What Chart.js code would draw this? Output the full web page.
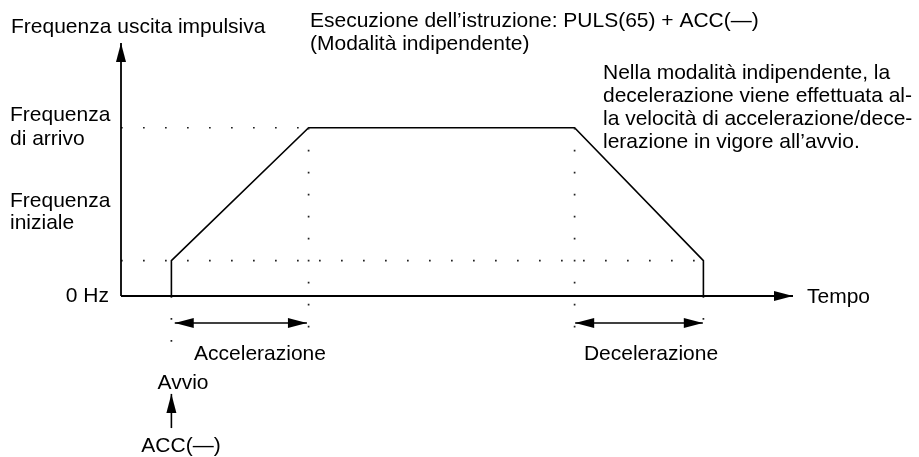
<!DOCTYPE html>
<html>
<head>
<meta charset="utf-8">
<script src="https://cdn.jsdelivr.net/npm/chart.js@4/dist/chart.umd.min.js"></script>
<style>
  html, body { margin: 0; padding: 0; background: #fff; }
</style>
</head>
<body>
<canvas id="profileChart" width="919" height="457"></canvas>
<script>
// Time axis (arbitrary units): avvio, fine accelerazione, inizio decelerazione, fine
const profileTime = [0.9, 0.9, 3.35, 8.1, 10.4, 10.4];
// Frequency (arbitrary units): 0 Hz, frequenza iniziale, frequenza di arrivo
const profileFreq = [0, 14, 66.5, 66.5, 14, 0];

const T_START = 0.9;
const T_ACC_END = 3.35;
const T_DEC_START = 8.1;
const T_END = 10.4;
const F_INIT = 14;
const F_ARRIVAL = 66.5;

const AXIS_T_MAX = 12;
const AXIS_F_MAX = 100;

// annotation marks below the time axis (same units)
const SPAN_ROW = -10.7;
const GUIDE_LOW = -15.4;
const START_GUIDE_LOW = -26;
const ACC_ARROW = [-52.2, -38.7];

const accSpan = [0.96, 3.32];
const decSpan = [8.11, 10.39];

const FONT = '21px "Liberation Sans", Arial, sans-serif';
const INK = "#000";

function pts(xs, ys) {
  return xs.map((x, i) => ({ x, y: ys[i] }));
}

function solid(data, width, arrows) {
  return {
    data,
    borderColor: INK,
    borderWidth: width,
    pointRadius: 0,
    fill: false,
    tension: 0,
    clip: false,
    arrows,
  };
}

function dotted(data) {
  return {
    data,
    borderColor: "#222",
    borderWidth: 1.7,
    borderDash: [1.7, 20.3],
    pointRadius: 0,
    fill: false,
    clip: false,
  };
}

const datasets = [
  // axes
  solid(pts([0, 0], [0, AXIS_F_MAX]), 1.8, "end"),
  solid(pts([0, AXIS_T_MAX], [0, 0]), 1.8, "end"),
  // guides
  dotted(pts([0, T_ACC_END], [F_ARRIVAL, F_ARRIVAL])),
  dotted(pts([0, T_END], [F_INIT, F_INIT])),
  dotted(pts([T_ACC_END, T_ACC_END], [F_ARRIVAL, GUIDE_LOW])),
  dotted(pts([T_DEC_START, T_DEC_START], [F_ARRIVAL, GUIDE_LOW])),
  dotted(pts([T_START, T_START], [0, START_GUIDE_LOW])),
  dotted(pts([T_END, T_END], [0, GUIDE_LOW])),
  // profile
  solid(pts(profileTime, profileFreq), 1.6),
  // spans
  solid(pts(accSpan, [SPAN_ROW, SPAN_ROW]), 1.6, "both"),
  solid(pts(decSpan, [SPAN_ROW, SPAN_ROW]), 1.6, "both"),
  solid(pts([T_START, T_START], ACC_ARROW), 1.6, "end"),
];

const texts = [
  { t: "Frequenza uscita impulsiva", x: 11, y: 27, align: "left" },
  { t: "Esecuzione dell\u2019istruzione: PULS(65) + ACC(\u2014)", x: 310, y: 21, align: "left" },
  { t: "(Modalit\u00e0 indipendente)", x: 310, y: 44, align: "left" },
  { t: "Nella modalit\u00e0 indipendente, la", x: 603, y: 73, align: "left" },
  { t: "decelerazione viene effettuata al-", x: 603, y: 96, align: "left" },
  { t: "la velocit\u00e0 di accelerazione/dece-", x: 603, y: 119, align: "left" },
  { t: "lerazione in vigore all\u2019avvio.", x: 603, y: 142, align: "left" },
  { t: "Frequenza", x: 10, y: 115, align: "left" },
  { t: "di arrivo", x: 10, y: 139, align: "left" },
  { t: "Frequenza", x: 10, y: 201, align: "left" },
  { t: "iniziale", x: 10, y: 223, align: "left" },
  { t: "0 Hz", x: 109, y: 296, align: "right" },
  { t: "Tempo", x: 807, y: 297, align: "left" },
  { t: "Accelerazione", x: 260, y: 354, align: "center" },
  { t: "Decelerazione", x: 651, y: 354, align: "center" },
  { t: "Avvio", x: 183, y: 383, align: "center" },
  { t: "ACC(\u2014)", x: 181, y: 446, align: "center" },
];

function drawHead(ctx, tip, from, len, half) {
  const a = Math.atan2(tip.y - from.y, tip.x - from.x);
  ctx.save();
  ctx.translate(tip.x, tip.y);
  ctx.rotate(a);
  ctx.beginPath();
  ctx.moveTo(0, 0);
  ctx.lineTo(-len, -half);
  ctx.lineTo(-len, half);
  ctx.closePath();
  ctx.fillStyle = INK;
  ctx.fill();
  ctx.restore();
}

const annotations = {
  id: "annotations",
  afterDatasetsDraw(chart) {
    const ctx = chart.ctx;
    chart.data.datasets.forEach((ds, i) => {
      if (!ds.arrows) return;
      const els = chart.getDatasetMeta(i).data;
      const first = els[0];
      const last = els[els.length - 1];
      drawHead(ctx, last, els[els.length - 2], 19, 5);
      if (ds.arrows === "both") drawHead(ctx, first, els[1], 19, 5);
    });

    ctx.save();
    ctx.font = FONT;
    ctx.fillStyle = INK;
    ctx.textBaseline = "middle";
    texts.forEach((s) => {
      ctx.textAlign = s.align;
      ctx.fillText(s.t, s.x, s.y);
    });
    ctx.restore();
  },
};

new Chart(document.getElementById("profileChart"), {
  type: "line",
  data: { datasets },
  options: {
    responsive: false,
    animation: false,
    layout: { padding: { left: 121, right: 126, top: 43, bottom: 161 } },
    scales: {
      x: { type: "linear", min: 0, max: AXIS_T_MAX, display: false },
      y: { type: "linear", min: 0, max: AXIS_F_MAX, display: false },
    },
    plugins: {
      legend: { display: false },
      tooltip: { enabled: false },
    },
  },
  plugins: [annotations],
});
</script>
</body>
</html>
